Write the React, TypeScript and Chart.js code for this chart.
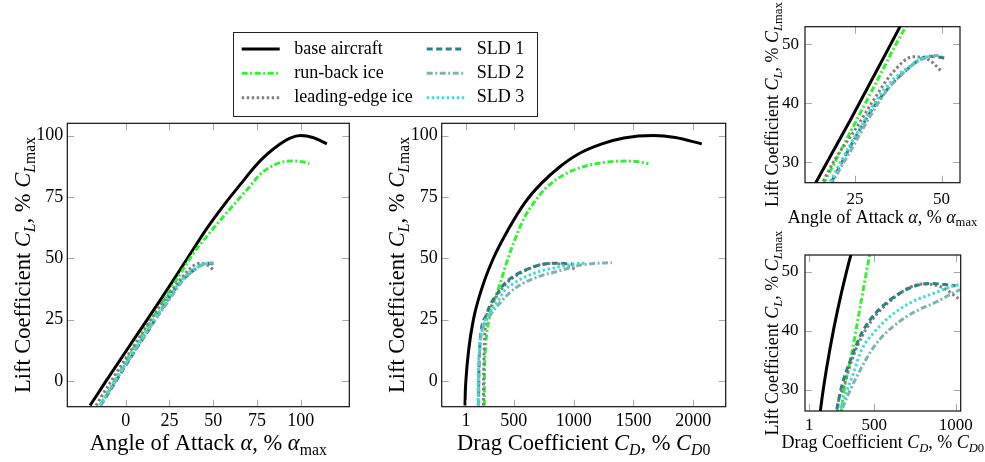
import React, { useEffect, useRef } from "react";
import { Chart, registerables } from "chart.js";
Chart.register(...registerables);

// ---------- data ----------
const SERIES_LABELS = ["base aircraft", "run-back ice", "leading-edge ice", "SLD 1", "SLD 2", "SLD 3"];

const BASE_CL = [-10, -5, 0, 12.5, 25, 37.5, 50, 61.8, 72.5, 80.5, 87.5, 92.5, 96.5, 99, 100, 99.2, 96.6];
const BASE_ALPHA = [-20.4, -15.8, -11.2, 0.5, 12.3, 24, 35.3, 46, 57, 66, 74, 81, 88, 94, 100, 107, 115];
const BASE_CD = [92, 94, 99, 122, 162, 231, 329, 454, 590, 730, 890, 1040, 1230, 1420, 1666, 1850, 2071];

const RUNBACK_CL = [-10, 0, 12.5, 25, 37.5, 42.8, 52.3, 59.5, 66.3, 72.8, 78.5, 84.3, 87.7, 89.3, 89.6, 89.3, 88.5];
const RUNBACK_ALPHA = [-14.6, -6.4, 3.8, 14.8, 25.8, 30.5, 39, 47, 55, 63, 70, 77, 84, 90, 96, 101, 105];
const RUNBACK_CD = [253, 254, 262, 292, 371, 405, 468, 525, 585, 670, 766, 930, 1110, 1300, 1444, 1540, 1625];

const LEADING_CL = [-10, 0, 12.5, 25, 30.5, 35, 40, 45, 47.9, 47.3, 45.4];
const LEADING_ALPHA = [-17, -8.3, 3, 14.3, 19.3, 24.5, 29.8, 35.6, 41.8, 46.5, 50];
const LEADING_CD = [245, 247, 252, 268, 312, 361, 443, 596, 800, 920, 1020];

const SLD1_CL = [-10, 0, 12.5, 22, 26.6, 30.6, 35.6, 40.1, 45.2, 48, 47.6];
const SLD1_ALPHA = [-14.3, -5.5, 5.5, 14.2, 18.2, 21.8, 26.5, 31.3, 39, 46.6, 51.6];
const SLD1_CD = [205, 207, 214, 232, 268, 299, 361, 432, 596, 842, 1000];

const SLD2_CL = [-10, 0, 12.5, 22, 26.6, 32.2, 37.9, 42.4, 44.9, 46.9, 47.8, 48.2];
const SLD2_ALPHA = [-14.5, -5.8, 5.3, 14, 18.5, 24, 29.5, 34.5, 38.5, 42.5, 46, 50];
const SLD2_CD = [206, 207, 215, 245, 300, 391, 514, 699, 883, 1026, 1150, 1320];

const SLD3_CL = [-10, 0, 12.5, 22, 26.6, 32.8, 36.8, 39.6, 42.4, 44.7, 46.3, 47.7, 48];
const SLD3_ALPHA = [-14.8, -6.2, 4.8, 13.5, 17.8, 23.5, 27.5, 30.2, 33.5, 37.2, 40.8, 44.5, 47];
const SLD3_CD = [200, 202, 212, 240, 289, 371, 422, 494, 596, 719, 862, 1006, 1100];

const MAIN_TICKS_CL = [0, 25, 50, 75, 100];
const MAIN_TICKS_ALPHA = [0, 25, 50, 75, 100];
const MAIN_TICKS_CD = [100, 500, 1000, 1500, 2000];
const MAIN_TICK_LABELS_CD = ["1", "500", "1000", "1500", "2000"];
const ZOOM_TICKS_CL = [30, 40, 50];
const ZOOM_TICKS_ALPHA = [25, 50];
const ZOOM_TICKS_CD = [100, 500, 1000];
const ZOOM_TICK_LABELS_CD = ["1", "500", "1000"];

// ---------- styles ----------
const SERIES = [
  { alpha: BASE_ALPHA, cd: BASE_CD, cl: BASE_CL },
  { alpha: RUNBACK_ALPHA, cd: RUNBACK_CD, cl: RUNBACK_CL },
  { alpha: LEADING_ALPHA, cd: LEADING_CD, cl: LEADING_CL },
  { alpha: SLD1_ALPHA, cd: SLD1_CD, cl: SLD1_CL },
  { alpha: SLD2_ALPHA, cd: SLD2_CD, cl: SLD2_CL },
  { alpha: SLD3_ALPHA, cd: SLD3_CD, cl: SLD3_CL },
];
const STYLES = [
  { color: "#000000", dash: [] as number[] },
  { color: "#36ee36", dash: [6, 2.5, 2, 2.5] },
  { color: "#808080", dash: [2.5, 2.5] },
  { color: "#2f8080", dash: [6, 3.5] },
  { color: "#80b2b2", dash: [6, 2.5, 2, 2.5] },
  { color: "#40dcdc", dash: [2.5, 2.5] },
];

const FONT = "'Liberation Serif', 'Times New Roman', serif";
const W = 985;
const H = 462;
const YW = 60;
const XH = 50;

type Seg = [string, number, number];
const ALPHA_TITLE: Seg[] = [["Angle of Attack ", 0, 0], ["α", 1, 0], [", % ", 0, 0], ["α", 1, 0], ["max", 0, 1]];
const CL_TITLE: Seg[] = [["Lift Coefficient ", 0, 0], ["C", 1, 0], ["L", 1, 1], [", % ", 0, 0], ["C", 1, 0], ["L", 1, 1], ["max", 0, 1]];
const CD_TITLE: Seg[] = [["Drag Coefficient ", 0, 0], ["C", 1, 0], ["D", 1, 1], [", % ", 0, 0], ["C", 1, 0], ["D", 1, 1], ["0", 0, 1]];

const PANELS = [
  {
    key: "alpha", area: { l: 67.3, t: 123.3, r: 349.3, b: 406.7 }, xr: [-33.4, 127.8], yr: [-10.5, 105],
    xt: MAIN_TICKS_ALPHA, xl: null as string[] | null, yt: MAIN_TICKS_CL, tick: 18, title: 22.5,
    xpad: 3.5, ypad: 4, xTitle: ALPHA_TITLE, xTitleY: 450, yTitleX: 30, legend: true,
  },
  {
    key: "cd", area: { l: 441.7, t: 123.3, r: 725.7, b: 406.7 }, xr: [-103, 2271], yr: [-10.5, 105],
    xt: MAIN_TICKS_CD, xl: MAIN_TICK_LABELS_CD, yt: MAIN_TICKS_CL, tick: 18, title: 22.5,
    xpad: 4, ypad: 4, xTitle: CD_TITLE, xTitleY: 450, yTitleX: 404, legend: false,
  },
  {
    key: "alpha", area: { l: 805, t: 26.7, r: 960, b: 182.7 }, xr: [10.6, 55.3], yr: [26.5, 53],
    xt: ZOOM_TICKS_ALPHA, xl: null, yt: ZOOM_TICKS_CL, tick: 17, title: 18,
    xpad: 7, ypad: 6, xTitle: ALPHA_TITLE, xTitleY: 222.7, yTitleX: 778, legend: false,
  },
  {
    key: "cd", area: { l: 805, t: 255, r: 960.7, b: 411 }, xr: [73.8, 1031], yr: [26.45, 52.8],
    xt: ZOOM_TICKS_CD, xl: ZOOM_TICK_LABELS_CD, yt: ZOOM_TICKS_CL, tick: 17, title: 18,
    xpad: 4.5, ypad: 6.5, xTitle: CD_TITLE, xTitleY: 448.3, yTitleX: 778, legend: false,
  },
];

function drawRich(ctx: CanvasRenderingContext2D, segs: Seg[], size: number, cx: number, cy: number, rot: boolean) {
  const fontFor = (s: Seg) => `${s[1] ? "italic " : ""}${s[2] ? size * 0.7 : size}px ${FONT}`;
  const widths = segs.map((s) => {
    ctx.font = fontFor(s);
    return ctx.measureText(s[0]).width;
  });
  const total = widths.reduce((a, b) => a + b, 0);
  ctx.save();
  ctx.translate(cx, cy);
  if (rot) ctx.rotate(-Math.PI / 2);
  ctx.textAlign = "left";
  ctx.textBaseline = "alphabetic";
  ctx.fillStyle = "#000";
  let x = -total / 2;
  segs.forEach((s, i) => {
    ctx.font = fontFor(s);
    ctx.fillText(s[0], x, s[2] ? size * 0.2 : 0);
    x += widths[i];
  });
  ctx.restore();
}

const decorPlugin = {
  id: "decor",
  afterDatasetsDraw(chart: any) {
    const p = chart.options.plugins.decor;
    const { ctx, chartArea: a, scales } = chart;
    ctx.save();
    ctx.strokeStyle = "#a8a8a8";
    ctx.lineWidth = 1;
    ctx.setLineDash([]);
    const L = 7;
    ctx.beginPath();
    scales.x.ticks.forEach((t: any) => {
      const px = Math.round(scales.x.getPixelForValue(t.value)) + 0.5;
      ctx.moveTo(px, a.bottom); ctx.lineTo(px, a.bottom - L);
      ctx.moveTo(px, a.top); ctx.lineTo(px, a.top + L);
    });
    scales.y.ticks.forEach((t: any) => {
      const py = Math.round(scales.y.getPixelForValue(t.value)) + 0.5;
      ctx.moveTo(a.left, py); ctx.lineTo(a.left + L, py);
      ctx.moveTo(a.right, py); ctx.lineTo(a.right - L, py);
    });
    ctx.stroke();
    ctx.strokeStyle = "#111";
    ctx.lineWidth = 1.2;
    ctx.strokeRect(a.left, a.top, a.right - a.left, a.bottom - a.top);
    // titles
    drawRich(ctx, p.xTitle, p.title, (a.left + a.right) / 2, p.xTitleY, false);
    drawRich(ctx, CL_TITLE, p.title, p.yTitleX, (a.top + a.bottom) / 2, true);
    // legend
    if (p.legend) {
      ctx.strokeStyle = "#222";
      ctx.lineWidth = 1;
      ctx.strokeRect(233.5, 32.5, 304, 84);
      const sx = [241.7, 426.7];
      const tx = [294.3, 476.7];
      const ry = [49, 73.3, 97.7];
      chart.data.datasets.forEach((ds: any, i: number) => {
        const col = Math.floor(i / 3);
        const row = i % 3;
        ctx.beginPath();
        ctx.strokeStyle = ds.borderColor;
        ctx.lineWidth = 3;
        ctx.setLineDash(ds.borderDash);
        ctx.moveTo(sx[col], ry[row]);
        ctx.lineTo(sx[col] + 38, ry[row]);
        ctx.stroke();
        ctx.setLineDash([]);
        ctx.fillStyle = "#000";
        ctx.font = `18px ${FONT}`;
        ctx.textBaseline = "middle";
        ctx.textAlign = "left";
        ctx.fillText(SERIES_LABELS[i], tx[col], ry[row]);
      });
    }
    ctx.restore();
  },
};

function Panel({ cfg }: { cfg: (typeof PANELS)[number] }) {
  const ref = useRef<HTMLCanvasElement>(null);
  useEffect(() => {
    const canvas = ref.current;
    if (!canvas) return;
    const datasets = SERIES.map((s, i) => ({
      label: SERIES_LABELS[i],
      data: s.cl.map((c, j) => ({ x: (s as any)[cfg.key][j], y: c })),
      borderColor: STYLES[i].color,
      backgroundColor: STYLES[i].color,
      borderDash: STYLES[i].dash,
      borderWidth: 3,
      borderCapStyle: "butt",
      pointRadius: 0,
      pointHoverRadius: 0,
      showLine: true,
      fill: false,
      cubicInterpolationMode: "monotone",
      clip: 0,
      order: SERIES.length - i,
    }));
    const a = cfg.area;
    const chart = new Chart(canvas, {
      type: "line",
      data: { datasets } as any,
      plugins: [decorPlugin],
      options: {
        responsive: false,
        animation: false,
        devicePixelRatio: 1,
        events: [],
        layout: { padding: { left: a.l - YW, top: a.t, right: W - a.r, bottom: H - a.b - XH } },
        plugins: {
          legend: { display: false },
          tooltip: { enabled: false },
          decor: { xTitle: cfg.xTitle, xTitleY: cfg.xTitleY, yTitleX: cfg.yTitleX, title: cfg.title, legend: cfg.legend },
        } as any,
        scales: {
          x: {
            type: "linear",
            min: cfg.xr[0],
            max: cfg.xr[1],
            grid: { display: false, drawTicks: false },
            border: { display: false },
            ticks: {
              color: "#000",
              font: { family: FONT, size: cfg.tick },
              padding: cfg.xpad,
              maxRotation: 0,
              autoSkip: false,
              callback: (v: any, i: number) => (cfg.xl ? cfg.xl[i] : String(v)),
            },
            afterBuildTicks: (s: any) => { s.ticks = cfg.xt.map((v) => ({ value: v })); },
            afterFit: (s: any) => { s.height = XH; },
          },
          y: {
            type: "linear",
            min: cfg.yr[0],
            max: cfg.yr[1],
            grid: { display: false, drawTicks: false },
            border: { display: false },
            ticks: {
              color: "#000",
              font: { family: FONT, size: cfg.tick },
              padding: cfg.ypad,
              autoSkip: false,
              callback: (v: any) => String(v),
            },
            afterBuildTicks: (s: any) => { s.ticks = cfg.yt.map((v) => ({ value: v })); },
            afterFit: (s: any) => { s.width = YW; },
          },
        },
      } as any,
    });
    return () => chart.destroy();
  }, [cfg]);
  return <canvas ref={ref} width={W} height={H} style={{ position: "absolute", left: 0, top: 0, width: W, height: H }} />;
}

export default function App() {
  return (
    <div style={{ position: "absolute", left: 0, top: 0, width: W, height: H, background: "#fff", overflow: "hidden" }}>
      {PANELS.map((p, i) => (
        <Panel key={i} cfg={p} />
      ))}
    </div>
  );
}
